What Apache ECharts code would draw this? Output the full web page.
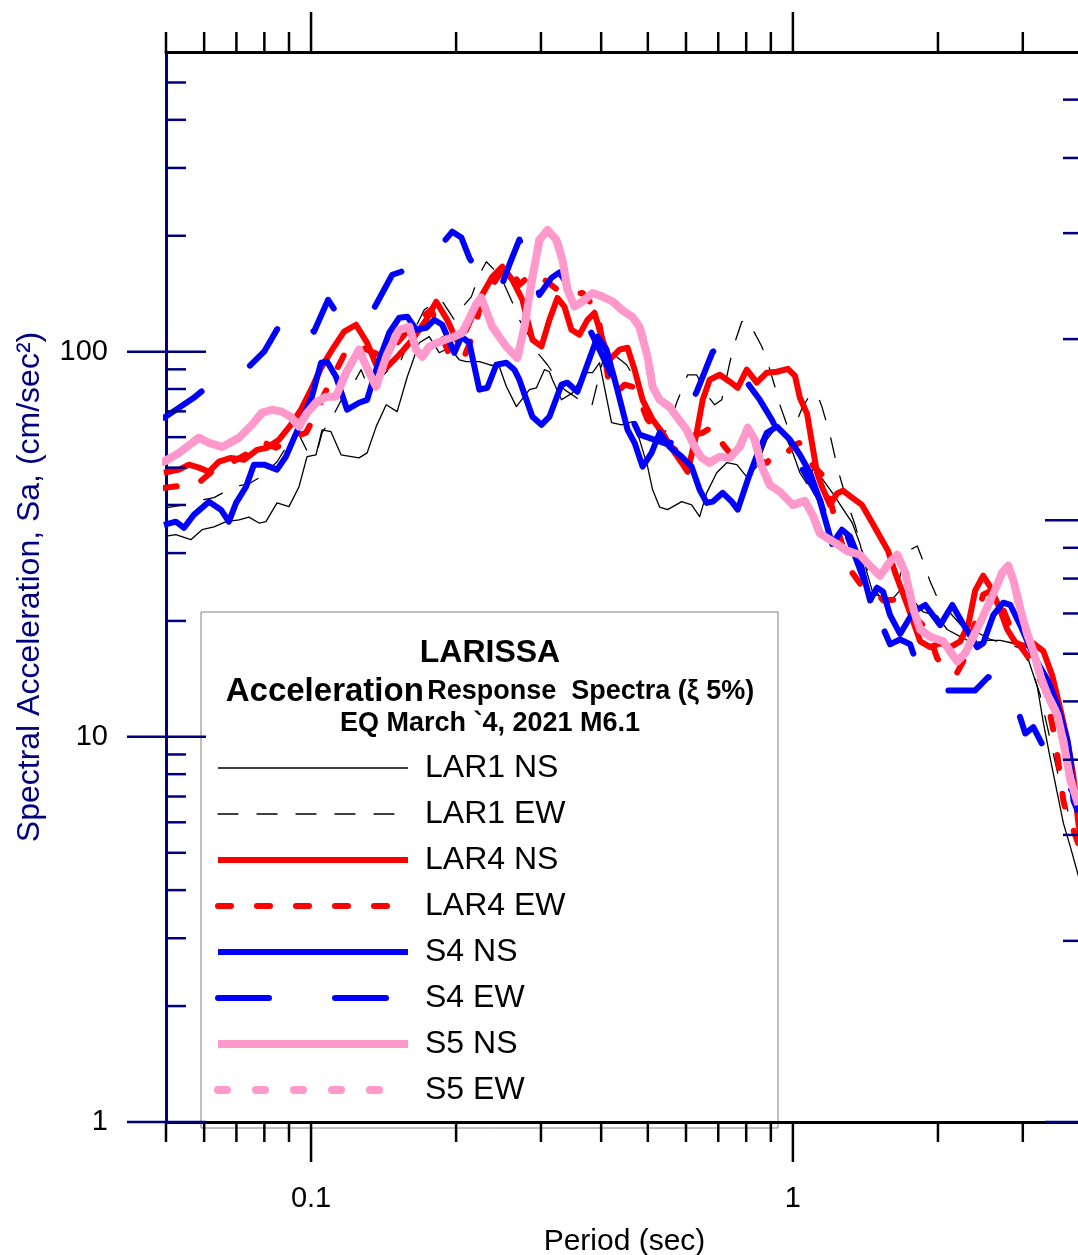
<!DOCTYPE html>
<html><head><meta charset="utf-8">
<script src="https://cdn.jsdelivr.net/npm/echarts@6/dist/echarts.min.js"></script>
<style>html,body{margin:0;padding:0;background:#fff}#c{width:1078px;height:1255px}</style>
</head><body><div id="c"></div>
<script>
// ---------- data: [period (s), Sa (cm/s^2)] ----------
const lar1NS = [[0.0495,33.1],[0.0524,33.5],[0.0563,32.5],[0.0594,34.5],[0.0629,35.1],[0.0666,36.2],[0.0709,36.6],[0.0743,37.2],[0.0780,35.9],[0.0806,36.2],[0.0850,40.5],[0.0900,39.6],[0.0944,44.6],[0.0981,53.4],[0.1024,54.0],[0.1054,62.7],[0.1100,62.0],[0.1154,54.0],[0.1258,53.0],[0.1307,54.6],[0.1365,63.9],[0.1432,72.8],[0.1509,69.9],[0.1584,86.1],[0.1677,105.5],[0.1759,109.4],[0.1845,99.4],[0.1936,102.4],[0.2031,95.3],[0.2100,94.2],[0.2235,94.2],[0.2344,92.5],[0.2459,91.4],[0.2543,81.2],[0.2668,72.0],[0.2839,79.7],[0.2936,80.6],[0.3050,89.8],[0.3124,88.7],[0.3170,84.6],[0.3309,75.0],[0.3488,78.2],[0.3694,88.2],[0.3838,88.2],[0.3969,93.6],[0.4204,65.4],[0.4410,64.6],[0.4648,65.8],[0.4806,59.1],[0.4994,50.3],[0.5115,43.8],[0.5289,39.5],[0.5495,38.9],[0.5876,40.8],[0.6164,40.0],[0.6405,37.3],[0.6624,43.0],[0.6948,48.5],[0.7289,51.5],[0.7649,50.9],[0.8021,47.3],[0.8415,50.3],[0.8829,59.1],[0.9263,63.9],[0.9624,60.9],[1.000,54.6],[1.034,48.5],[1.070,45.4],[1.101,49.7],[1.155,46.5],[1.211,42.8],[1.270,39.1],[1.327,36.0],[1.378,31.7],[1.425,26.7],[1.467,23.5],[1.517,23.2],[1.569,22.0],[1.669,24.0],[1.777,22.6],[1.864,21.1],[1.993,20.6],[2.090,19.0],[2.225,18.2],[2.367,17.5],[2.531,17.8],[2.694,17.8],[2.866,17.5],[3.007,17.5],[3.110,15.3],[3.215,13.5],[3.309,10.9],[3.422,8.76],[3.539,7.12],[3.642,5.97],[3.766,5.18],[3.912,4.36],[4.0,4.0]];

const lar1EW = [[0.0499,39.3],[0.0545,40.0],[0.0599,41.3],[0.0629,41.8],[0.0692,44.6],[0.0743,45.4],[0.0799,47.9],[0.0850,51.8],[0.0900,58.0],[0.0944,60.9],[0.0990,54.0],[0.1029,55.0],[0.1054,61.6],[0.1106,67.4],[0.1171,77.3],[0.1216,81.2],[0.1270,89.8],[0.1320,79.7],[0.1385,84.6],[0.1467,91.4],[0.1524,92.5],[0.1599,107.4],[0.1718,128.5],[0.1776,132.3],[0.1863,136.4],[0.1983,121],[0.2080,132.3],[0.2151,138.8],[0.2235,158.4],[0.2311,171.2],[0.2401,163.2],[0.2519,149.2],[0.2642,130.8],[0.2706,121],[0.2866,107.4],[0.2950,99.4],[0.3094,92.5],[0.3246,84.6],[0.3357,79.7],[0.3606,75.0],[0.3820,71.9],[0.3969,87.1],[0.4104,104.3],[0.4204,103.2],[0.4306,97.0],[0.4516,92.5],[0.4693,85.6],[0.4852,77.3],[0.5042,68.6],[0.5289,60.9],[0.5495,62.7],[0.5738,73.7],[0.6048,87.1],[0.6314,87.1],[0.6624,77.3],[0.6882,72.8],[0.7117,75.0],[0.7395,93.6],[0.7611,107.4],[0.7832,119.6],[0.8060,121],[0.8217,115.4],[0.8619,103.2],[0.8829,95.3],[0.9174,81.2],[0.9396,72.8],[0.9717,64.6],[1.010,64.2],[1.044,71.2],[1.085,77.3],[1.122,77.8],[1.149,71.9],[1.194,60.9],[1.234,50.6],[1.264,45.4],[1.302,40.0],[1.346,35.5],[1.391,30.6],[1.446,25.6],[1.517,23.0],[1.591,22.7],[1.646,24.5],[1.694,28.0],[1.751,30.6],[1.812,31.3],[1.855,29.0],[1.927,25.3],[1.993,23.0],[2.090,21.4],[2.225,19.6],[2.390,18.8],[2.568,17.9],[2.759,17.5],[2.964,17.0],[3.110,15.4],[3.262,12.8],[3.422,9.8],[3.590,7.5],[3.766,6.09],[3.912,5.3]];

const lar4NS = [[0.0495,48.5],[0.0532,49.4],[0.0558,50.9],[0.0585,50.0],[0.0614,48.8],[0.0644,51.8],[0.0682,53.0],[0.0726,52.4],[0.0772,55.6],[0.0810,56.3],[0.0858,59.1],[0.0908,64.6],[0.0953,70.7],[0.1000,79.7],[0.1049,90.8],[0.1106,101.2],[0.1171,112.7],[0.1240,117.5],[0.1307,105.5],[0.1365,92.5],[0.1432,90.8],[0.1524,98.2],[0.1622,107.4],[0.1734,121],[0.1819,134.8],[0.1917,121],[0.2002,107.4],[0.2100,114],[0.2235,136.4],[0.2378,156.5],[0.2495,166.2],[0.2617,153.7],[0.2745,136.4],[0.2880,107.4],[0.3007,103.2],[0.3124,121],[0.3246,137.9],[0.3357,130.8],[0.3471,114],[0.3606,110.7],[0.3747,121],[0.3875,126.2],[0.4026,107.4],[0.4164,95.3],[0.4368,101.2],[0.4538,102.4],[0.4693,89.8],[0.4876,75.0],[0.5115,66.6],[0.5366,61.6],[0.5628,55.6],[0.5876,51.5],[0.6048,48.8],[0.6314,61.6],[0.6498,75.0],[0.6719,84.6],[0.7049,87.1],[0.7395,83.6],[0.7683,80.6],[0.8021,89.8],[0.8415,83.1],[0.8829,88.2],[0.9263,88.7],[0.9763,90.3],[1.010,86.6],[1.034,75.9],[1.070,69.0],[1.096,57.7],[1.122,48.5],[1.149,44.6],[1.194,40.0],[1.234,42.8],[1.270,43.6],[1.327,41.8],[1.391,40.0],[1.460,36.0],[1.517,33.1],[1.576,30.4],[1.630,26.7],[1.694,23.5],[1.768,20.3],[1.837,17.7],[1.927,17.1],[2.022,17.5],[2.121,17.1],[2.225,17.7],[2.311,19.5],[2.390,24.0],[2.483,26.2],[2.568,24.5],[2.668,22.0],[2.786,19.0],[2.894,17.6],[3.007,17.2],[3.155,17.5],[3.309,16.7],[3.455,14.4],[3.590,11.8],[3.712,9.8],[3.821,7.9],[3.912,5.97],[4.0,5.08]];

const lar4EW = [[0.0495,44.3],[0.0532,44.8],[0.0558,44.6],[0.0585,45.7],[0.0629,49.4],[0.0682,51.5],[0.0719,53.4],[0.0761,55.6],[0.0791,58.4],[0.0846,56.3],[0.0913,59.8],[0.0976,61.6],[0.1014,67.4],[0.1064,77.3],[0.1116,87.1],[0.1171,98.2],[0.1240,104.3],[0.1307,101.2],[0.1385,98.2],[0.1467,101.2],[0.1561,110.7],[0.1677,121],[0.1776,128.5],[0.1863,110.7],[0.1955,95.3],[0.2080,97.0],[0.2161,109.4],[0.2235,128.5],[0.2344,144.8],[0.2459,158.4],[0.2580,168.2],[0.2706,149.2],[0.2880,160.1],[0.3050,153.7],[0.3246,144.8],[0.3488,140.5],[0.3658,142.1],[0.3838,132.3],[0.3969,117.5],[0.4065,98.2],[0.4164,81.1],[0.4306,78.2],[0.4473,82.1],[0.4648,81.1],[0.4806,75.0],[0.4994,66.6],[0.5164,63.9],[0.5417,59.1],[0.5683,55.6],[0.5961,57.3],[0.6253,60.9],[0.6498,61.6],[0.6817,63.9],[0.7117,58.0],[0.7395,54.6],[0.7757,53.0],[0.8256,52.4],[0.8829,51.5],[0.9263,55.0],[0.9717,54.6],[1.010,57.3],[1.034,58.0],[1.059,55.3],[1.101,50.6],[1.155,47.6],[1.194,41.3],[1.240,34.5],[1.264,31.7],[1.327,26.7],[1.378,25.0],[1.446,24.1],[1.502,23.5],[1.539,22.6],[1.615,22.7],[1.710,22.0],[1.837,19.8],[1.900,19.0],[1.993,16.0],[2.090,14.7],[2.193,14.7],[2.257,15.7],[2.367,19.0],[2.483,23.4],[2.605,24.1],[2.733,21.4],[2.894,17.9],[3.110,15.85],[3.341,13.2],[3.505,9.8],[3.642,6.82],[3.712,6.22],[3.821,5.73],[3.912,5.27]];

const s4NS = [[0.0495,35.5],[0.0524,36.2],[0.0545,34.9],[0.0571,37.7],[0.0614,40.8],[0.0650,38.9],[0.0675,36.2],[0.0699,40.5],[0.0733,44.6],[0.0761,50.9],[0.0799,50.9],[0.0850,49.4],[0.0887,53.4],[0.0944,63.9],[0.1004,76.4],[0.1049,93.6],[0.1080,94.2],[0.1127,86.1],[0.1188,70.7],[0.1258,73.7],[0.1307,75.0],[0.1385,95.3],[0.1453,112],[0.1524,122.5],[0.1584,123.3],[0.1653,114],[0.1734,115.4],[0.1802,121],[0.1872,117.5],[0.1983,99.4],[0.2051,109.4],[0.2130,105.5],[0.2235,79.7],[0.2322,80.6],[0.2424,92.5],[0.2543,93.6],[0.2642,89.8],[0.2706,84.6],[0.2880,67.8],[0.3007,64.6],[0.3124,67.8],[0.3309,82.1],[0.3405,83.1],[0.3571,78.7],[0.3730,91.4],[0.3931,109.4],[0.4104,101.2],[0.4306,81.1],[0.4538,62.7],[0.4693,58.0],[0.4876,50.3],[0.5090,54.6],[0.5289,61.6],[0.5548,56.6],[0.5876,53.4],[0.6164,50.3],[0.6405,43.8],[0.6624,40.5],[0.6817,40.8],[0.7151,43.0],[0.7465,40.8],[0.7683,38.9],[0.8060,46.5],[0.8455,54.6],[0.8829,61.6],[0.9263,63.9],[0.9624,60.9],[0.9857,59.1],[1.034,54.0],[1.085,48.5],[1.138,41.0],[1.206,31.7],[1.264,34.5],[1.314,33.1],[1.378,28.5],[1.446,22.6],[1.495,24.4],[1.539,23.8],[1.591,20.7],[1.669,18.5],[1.777,21.1],[1.882,22.0],[2.022,19.5],[2.142,22.0],[2.246,19.8],[2.413,17.1],[2.483,17.5],[2.605,20.7],[2.733,22.3],[2.826,22.0],[2.964,19.5],[3.155,16.3],[3.373,14.1],[3.539,12.1],[3.712,9.8],[3.766,8.76],[3.821,6.82],[3.912,6.38]];

const s4EW = [[0.0495,67.4],[0.0532,71.5],[0.0571,75.9],[0.0605,80.6],[0.0669,85.6],[0.0743,91.4],[0.0799,100],[0.0866,118.9],[0.0935,128.5],[0.1014,112.7],[0.1085,136.4],[0.1143,123.3],[0.1240,117.5],[0.1339,127],[0.1474,158.4],[0.1539,161.3],[0.1677,171.2],[0.1863,189.6],[0.1964,205],[0.2051,197.8],[0.2130,175.4],[0.2289,151],[0.2459,143.1],[0.2580,168.2],[0.2706,195.4],[0.2839,171.2],[0.2978,140.5],[0.3154,155.5],[0.3277,160.7],[0.3438,146.5],[0.3969,101.2],[0.4806,60.9],[0.5548,57.3],[0.6314,78.7],[0.6817,100],[0.7117,102.4],[0.8537,75.0],[0.9043,66.6],[0.9532,58.0],[1.034,50.9],[1.138,41.3],[1.206,32.5],[1.283,34.5],[1.378,27.2],[1.481,21.4],[1.591,17.4],[1.669,17.9],[1.751,17.4],[1.820,15.1],[1.927,13.7],[2.051,13.2],[2.225,13.2],[2.390,13.2],[2.543,14.3],[2.694,14.1],[2.853,13.0],[3.036,10.2],[3.155,10.6],[3.422,8.7],[3.912,6.86]];

const s5NS = [[0.0495,51.8],[0.0532,54.6],[0.0585,59.8],[0.0614,58.0],[0.0654,56.6],[0.0709,59.8],[0.0754,64.6],[0.0791,69.4],[0.0830,70.7],[0.0870,69.9],[0.0908,67.8],[0.0944,63.9],[0.0981,69.4],[0.1024,73.7],[0.1074,76.4],[0.1126,76.4],[0.1182,88.2],[0.1258,101.2],[0.1320,88.2],[0.1365,81.2],[0.1432,97.0],[0.1524,114],[0.1599,116],[0.1653,101],[0.1702,97.0],[0.1759,103],[0.1845,106],[0.1964,109],[0.2060,112],[0.2203,133],[0.2256,138],[0.2378,116],[0.2543,103],[0.2680,96.4],[0.2772,116],[0.2866,151],[0.2978,195],[0.3094,207],[0.3231,195],[0.3325,173],[0.3405,145],[0.3521,131],[0.3658,135],[0.3838,142],[0.4026,139],[0.4224,135],[0.4431,128],[0.4648,123],[0.4806,116],[0.4994,97.0],[0.5115,81.1],[0.5289,75.0],[0.5548,71.9],[0.5738,67.8],[0.6020,62.7],[0.6253,56.6],[0.6467,53.0],[0.6719,51.5],[0.7049,53.4],[0.7395,53.0],[0.7757,56.6],[0.8060,63.5],[0.8335,59.1],[0.8619,50.3],[0.8956,45.1],[0.9396,43.3],[1.000,40.0],[1.059,41.0],[1.101,37.5],[1.138,33.7],[1.234,31.7],[1.295,30.4],[1.378,29.7],[1.446,27.8],[1.517,26.2],[1.591,28.5],[1.646,29.7],[1.710,26.7],[1.777,21.5],[1.837,19.0],[1.927,18.2],[2.051,17.7],[2.193,15.7],[2.279,16.5],[2.367,18.2],[2.483,20.6],[2.605,23.5],[2.720,26.7],[2.799,27.8],[2.866,25.6],[2.964,21.5],[3.065,18.5],[3.155,16.7],[3.262,14.4],[3.373,12.9],[3.539,11.4],[3.642,9.7],[3.766,7.74],[3.912,6.66]];

// S5 EW is not distinguishable from S5 NS anywhere in the picture: it lies underneath it.
const s5EW = [[0.0495,51.8],[0.0532,54.6],[0.0585,59.8],[0.0614,58.0],[0.0654,56.6],[0.0709,59.8],[0.0754,64.6],[0.0791,69.4],[0.0830,70.7],[0.0870,69.9],[0.0908,67.8],[0.0944,63.9],[0.0981,69.4],[0.1024,73.7],[0.1074,76.4],[0.1126,76.4],[0.1182,88.2],[0.1258,101.2],[0.1320,88.2],[0.1365,81.2],[0.1432,97.0],[0.1524,114],[0.1599,116],[0.1653,101],[0.1702,97.0],[0.1759,103],[0.1845,106],[0.1964,109],[0.2060,112],[0.2203,133],[0.2256,138],[0.2378,116],[0.2543,103],[0.2680,96.4],[0.2772,116],[0.2866,151],[0.2978,195],[0.3094,207],[0.3231,195],[0.3325,173],[0.3405,145],[0.3521,131],[0.3658,135],[0.3838,142],[0.4026,139],[0.4224,135],[0.4431,128],[0.4648,123],[0.4806,116],[0.4994,97.0],[0.5115,81.1],[0.5289,75.0],[0.5548,71.9],[0.5738,67.8],[0.6020,62.7],[0.6253,56.6],[0.6467,53.0],[0.6719,51.5],[0.7049,53.4],[0.7395,53.0],[0.7757,56.6],[0.8060,63.5],[0.8335,59.1],[0.8619,50.3],[0.8956,45.1],[0.9396,43.3],[1.000,40.0],[1.059,41.0],[1.101,37.5],[1.138,33.7],[1.234,31.7],[1.295,30.4],[1.378,29.7],[1.446,27.8],[1.517,26.2],[1.591,28.5],[1.646,29.7],[1.710,26.7],[1.777,21.5],[1.837,19.0],[1.927,18.2],[2.051,17.7],[2.193,15.7],[2.279,16.5],[2.367,18.2],[2.483,20.6],[2.605,23.5],[2.720,26.7],[2.799,27.8],[2.866,25.6],[2.964,21.5],[3.065,18.5],[3.155,16.7],[3.262,14.4],[3.373,12.9],[3.539,11.4],[3.642,9.7],[3.766,7.74],[3.912,6.66]];

const seriesNames = ['LAR1 NS','LAR1 EW','LAR4 NS','LAR4 EW','S4 NS','S4 EW','S5 NS','S5 EW'];

// axis ranges and ticks
const X_MIN = 0.05, X_MAX = 4;
const Y_MIN = 1, Y_MAX = 600;
const Y2_MIN = 0.1, Y2_MAX = 6;
const xLabelValues = [0.1, 1];
const yLabelValues = [1, 10, 100];
const xMajorTicks = [0.1, 1];
const xMinorTicks = [0.05, 0.06, 0.07, 0.08, 0.09, 0.2, 0.3, 0.4, 0.5, 0.6, 0.7, 0.8, 0.9, 2, 3, 4];
const yMajorTicks = [1, 10, 100];
const yMinorTicks = [2,3,4,5,6,7,8,9,20,30,40,50,60,70,80,90,200,300,400,500];
const y2MajorTicks = [0.1, 1];
const y2MinorTicks = [0.2,0.3,0.4,0.5,0.6,0.7,0.8,0.9,2,3,4,5];

const titleText = 'LARISSA';
const subtitleBig = 'Acceleration';
const subtitleSmall = 'Response  Spectra (ξ 5%)';
const eventText = 'EQ March `4, 2021 M6.1';

// ---------- chart ----------
const NAVY = '#000080';
const FONT = '"Liberation Sans", Arial, sans-serif';
const chart = echarts.init(document.getElementById('c'), null, {renderer: 'canvas'});

function matchOf(v, arr) { return arr.find(t => Math.abs(v - t) / t < 1e-6); }

function lineSeries(name, data, color, width, dash, z) {
  return {
    name, type: 'line', data, symbol: 'none', showSymbol: false,
    xAxisIndex: 0, yAxisIndex: 0, z,
    lineStyle: {color, width, type: dash || 'solid', cap: dash ? 'round' : 'butt', join: 'round'},
    itemStyle: {color, opacity: 0},
    emphasis: {disabled: true}, silent: true, animation: false
  };
}

const xTickData = xMajorTicks.map(v => [v, Y_MIN, 1]).concat(xMinorTicks.map(v => [v, Y_MIN, 0]));
const yTickData = yMajorTicks.map(v => [X_MIN, v, 1]).concat(yMinorTicks.map(v => [X_MIN, v, 0]));
const y2TickData = y2MajorTicks.map(v => [X_MAX, v, 1]).concat(y2MinorTicks.map(v => [X_MAX, v, 0]));

const legendData = seriesNames.map(n => n === 'S4 EW'
  ? {name: n, lineStyle: {type: [51, 66]}} : {name: n});

const option = {
  backgroundColor: '#fff',
  animation: false,
  grid: {left: 166, top: 52, right: -5, bottom: 133, containLabel: false, outerBoundsMode: 'none'},
  xAxis: [
    {type: 'log', logBase: 10, min: X_MIN, max: X_MAX, position: 'bottom',
     axisLine: {show: true, onZero: false, lineStyle: {color: '#000', width: 3}},
     axisTick: {show: false}, splitLine: {show: false}, minorTick: {show: false},
     axisLabel: {show: true, margin: 62, color: '#000', fontSize: 29, fontFamily: FONT,
       showMinLabel: false, showMaxLabel: false,
       formatter: v => { const m = matchOf(v, xLabelValues); return m === undefined ? '' : String(m); }},
     name: 'Period (sec)', nameLocation: 'middle', nameGap: 105,
     nameTextStyle: {color: '#000', fontSize: 30, fontFamily: FONT}},
    {type: 'log', logBase: 10, min: X_MIN, max: X_MAX, position: 'top',
     axisLine: {show: true, onZero: false, lineStyle: {color: '#000', width: 3}},
     axisTick: {show: false}, axisLabel: {show: false}, splitLine: {show: false}}
  ],
  yAxis: [
    {type: 'log', logBase: 10, min: Y_MIN, max: Y_MAX, position: 'left',
     axisLine: {show: true, onZero: false, lineStyle: {color: NAVY, width: 3}},
     axisTick: {show: false}, splitLine: {show: false},
     axisLabel: {show: true, margin: 58, color: '#000', fontSize: 29, fontFamily: FONT,
       showMinLabel: true, showMaxLabel: false,
       formatter: v => { const m = matchOf(v, yLabelValues); return m === undefined ? '' : String(m); }},
     name: 'Spectral Acceleration, Sa, (cm/sec²)', nameLocation: 'middle', nameGap: 120,
     nameTextStyle: {color: NAVY, fontSize: 32, fontFamily: FONT}},
    {type: 'log', logBase: 10, min: Y2_MIN, max: Y2_MAX, position: 'right',
     axisLine: {show: true, onZero: false, lineStyle: {color: NAVY, width: 3}},
     axisTick: {show: false}, axisLabel: {show: false}, splitLine: {show: false}}
  ],
  legend: {
    show: true, orient: 'vertical', left: 214, top: 750, padding: 0,
    itemWidth: 190, itemHeight: 14, itemGap: 10, selectedMode: false,
    data: legendData,
    itemStyle: {opacity: 0},
    lineStyle: {width: 'inherit'},
    textStyle: {color: '#000', fontSize: 32, lineHeight: 36, fontFamily: FONT, padding: [0, 0, 0, 12]}
  },
  graphic: [
    {type: 'rect', z: -10, silent: true,
     shape: {x: 201, y: 612, width: 577, height: 516},
     style: {fill: '#fff', stroke: '#808080', lineWidth: 1}},
    {type: 'text', z: 10, silent: true, x: 490, y: 653,
     style: {text: titleText, fill: '#000', font: 'bold 32px ' + FONT,
       align: 'center', verticalAlign: 'middle', textAlign: 'center', textVerticalAlign: 'middle'}},
    {type: 'text', z: 10, silent: true, x: 490, y: 692,
     style: {text: '{a|' + subtitleBig + '} {b|' + subtitleSmall + '}',
       rich: {a: {fontSize: 33, fontWeight: 'bold', fontFamily: FONT, fill: '#000', color: '#000'},
              b: {fontSize: 27, fontWeight: 'bold', fontFamily: FONT, fill: '#000', color: '#000'}},
       align: 'center', verticalAlign: 'middle', textAlign: 'center', textVerticalAlign: 'middle'}},
    {type: 'text', z: 10, silent: true, x: 490, y: 724,
     style: {text: eventText, fill: '#000', font: 'bold 27px ' + FONT,
       align: 'center', verticalAlign: 'middle', textAlign: 'center', textVerticalAlign: 'middle'}}
  ],
  series: [
    lineSeries('LAR1 NS', lar1NS, '#000000', 1.3, null, 3),
    lineSeries('LAR1 EW', lar1EW, '#000000', 1.3, [20, 19], 3),
    lineSeries('LAR4 NS', lar4NS, '#ff0000', 6, null, 4),
    lineSeries('LAR4 EW', lar4EW, '#ff0000', 6, [13, 26], 4),
    lineSeries('S4 NS', s4NS, '#0000ff', 6, null, 5),
    lineSeries('S4 EW', s4EW, '#0000ff', 6, [46, 55], 5),
    lineSeries('S5 EW', s5EW, '#ff99cc', 8, [9, 29], 6),
    lineSeries('S5 NS', s5NS, '#ff99cc', 8, null, 6),
    {type: 'custom', name: 'xticks', xAxisIndex: 0, yAxisIndex: 0, clip: false, silent: true, z: 8,
     data: xTickData,
     renderItem: (params, api) => {
       const v = api.value(0), major = api.value(2);
       const b = api.coord([v, Y_MIN]), t = api.coord([v, Y_MAX]);
       const len = major ? 40 : 20;
       return {type: 'group', children: [
         {type: 'line', shape: {x1: b[0], y1: b[1], x2: b[0], y2: b[1] + len}, style: {stroke: '#000', lineWidth: 2.5}},
         {type: 'line', shape: {x1: t[0], y1: t[1], x2: t[0], y2: t[1] - len}, style: {stroke: '#000', lineWidth: 2.5}}
       ]};
     }},
    {type: 'custom', name: 'yticks', xAxisIndex: 0, yAxisIndex: 0, clip: false, silent: true, z: 9,
     data: yTickData,
     renderItem: (params, api) => {
       const v = api.value(1), major = api.value(2);
       const p = api.coord([X_MIN, v]);
       return {type: 'line', shape: {x1: major ? p[0] - 39 : p[0], y1: p[1], x2: p[0] + (major ? 40 : 20), y2: p[1]},
         style: {stroke: NAVY, lineWidth: 2.5}};
     }},
    {type: 'custom', name: 'y2ticks', xAxisIndex: 0, yAxisIndex: 1, clip: false, silent: true, z: 9,
     data: y2TickData,
     renderItem: (params, api) => {
       const v = api.value(1), major = api.value(2);
       const p = api.coord([X_MAX, v]);
       return {type: 'line', shape: {x1: p[0] - (major ? 38 : 20), y1: p[1], x2: p[0], y2: p[1]},
         style: {stroke: NAVY, lineWidth: 2.5}};
     }}
  ]
};
chart.setOption(option);
</script></body></html>
